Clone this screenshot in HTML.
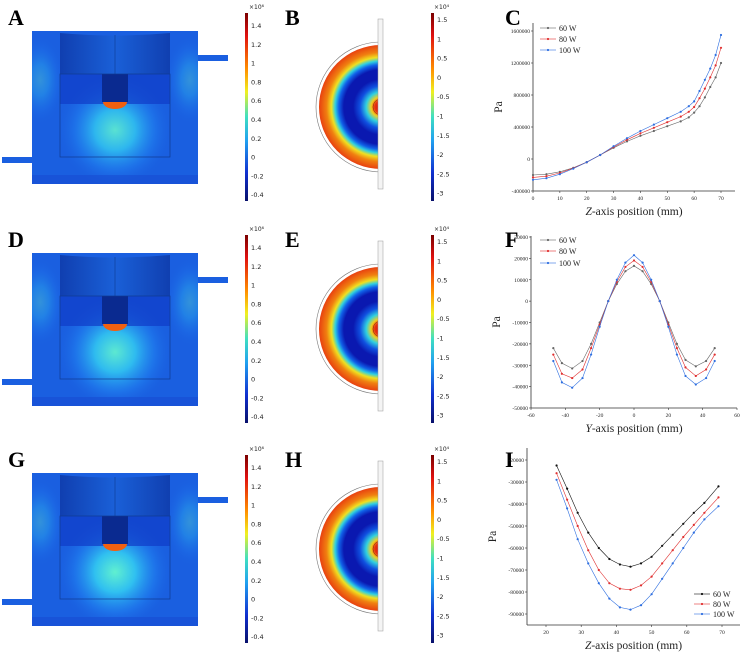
<!DOCTYPE html>
<html><head><meta charset="utf-8"><style>
body{margin:0;background:#fff;width:743px;height:660px;overflow:hidden}
svg{display:block;font-family:"Liberation Serif",serif}
</style></head><body>
<svg id="fig" width="743" height="660" viewBox="0 0 743 660" xmlns="http://www.w3.org/2000/svg">
<defs>
<linearGradient id="jet" x1="0" y1="0" x2="0" y2="1">
<stop offset="0" stop-color="#7a0000"/><stop offset="0.12" stop-color="#e01010"/><stop offset="0.3" stop-color="#ff9000"/><stop offset="0.42" stop-color="#f0f020"/><stop offset="0.55" stop-color="#40e0c0"/><stop offset="0.68" stop-color="#20a0f0"/><stop offset="0.85" stop-color="#1030d0"/><stop offset="1" stop-color="#08106a"/></linearGradient>
<radialGradient id="glow" cx="0.5" cy="0.5" r="0.5">
<stop offset="0" stop-color="#60f0d0"/><stop offset="0.35" stop-color="#30c0f0"/><stop offset="0.7" stop-color="#2080f0" stop-opacity="0.6"/><stop offset="1" stop-color="#1a5fe0" stop-opacity="0"/></radialGradient>
<radialGradient id="rings" gradientUnits="userSpaceOnUse" cx="381" cy="107" r="62">
<stop offset="0" stop-color="#d01010"/><stop offset="0.1" stop-color="#e83010"/><stop offset="0.16" stop-color="#f0d020"/><stop offset="0.24" stop-color="#30d0e0"/><stop offset="0.34" stop-color="#1050e0"/><stop offset="0.45" stop-color="#0a18b0"/><stop offset="0.6" stop-color="#0a18b0"/><stop offset="0.68" stop-color="#1060e8"/><stop offset="0.74" stop-color="#30d0e0"/><stop offset="0.8" stop-color="#f0e020"/><stop offset="0.88" stop-color="#f08010"/><stop offset="1" stop-color="#e84010"/></radialGradient>
<linearGradient id="topdark" x1="0" y1="0" x2="1" y2="0"><stop offset="0" stop-color="#103fb0"/><stop offset="0.5" stop-color="#1a60d8"/><stop offset="1" stop-color="#103fb0"/></linearGradient>
<clipPath id="tankclip"><rect x="32" y="31" width="166" height="153"/></clipPath>
</defs>
</svg>
<script>
const cX=[0,5,10,15,20,25,30,35,40,45,50,55,58,60,62,64,66,68,70];
const c60=[-200000,-190000,-160000,-110000,-40000,50000,140000,220000,290000,350000,410000,470000,520000,580000,660000,770000,900000,1020000,1200000];
const c80=[-230000,-215000,-175000,-115000,-40000,50000,150000,240000,320000,390000,460000,530000,590000,650000,760000,880000,1020000,1170000,1390000];
const c100=[-260000,-240000,-190000,-120000,-40000,50000,160000,260000,350000,430000,510000,590000,660000,720000,850000,990000,1130000,1300000,1550000];
const cXTicks=[0,10,20,30,40,50,60,70];
const cYTicks=[-400000,0,400000,800000,1200000,1600000];
const fX=[-47,-42,-36,-30,-25,-20,-15,-10,-5,0,5,10,15,20,25,30,36,42,47];
const f60=[-22000,-29000,-31500,-28000,-20000,-10000,0,8000,14000,16500,14000,8000,0,-10000,-20000,-27500,-30500,-28000,-22000];
const f80=[-25000,-34000,-36000,-32000,-22000,-11000,0,9000,16000,19000,16000,9000,0,-11000,-22000,-31000,-35000,-32000,-25000];
const f100=[-28000,-38000,-40500,-36000,-25000,-12000,0,10000,18000,21500,18000,10000,0,-12000,-25000,-35000,-39000,-36000,-28000];
const fXTicks=[-60,-40,-20,0,20,40,60];
const fYTicks=[-50000,-40000,-30000,-20000,-10000,0,10000,20000,30000];
const iX=[23,26,29,32,35,38,41,44,47,50,53,56,59,62,65,69];
const i60=[-22500,-33000,-44000,-53000,-60000,-65000,-67500,-68500,-67000,-64000,-59000,-54000,-49000,-44000,-39500,-32000];
const i80=[-26000,-38000,-50000,-61000,-70000,-76000,-78500,-79000,-77000,-73000,-67000,-61000,-55000,-49500,-44000,-37000];
const i100=[-29000,-42000,-56000,-67000,-76000,-83000,-87000,-88000,-86000,-81000,-74000,-67000,-60000,-53000,-47000,-41000];
const iXTicks=[20,30,40,50,60,70];
const iYTicks=[-90000,-80000,-70000,-60000,-50000,-40000,-30000,-20000];
const seriesNames=['60 W','80 W','100 W'];
const cbA=['1.4','1.2','1','0.8','0.6','0.4','0.2','0','-0.2','-0.4'];
const cbB=['1.5','1','0.5','0','-0.5','-1','-1.5','-2','-2.5','-3'];

const NS='http://www.w3.org/2000/svg';
const svg=document.getElementById('fig');
function el(t,a,p){const e=document.createElementNS(NS,t);for(const k in a)e.setAttribute(k,a[k]);(p||svg).appendChild(e);return e;}
function tx(s,x,y,size,a,p){const e=el('text',Object.assign({x:x,y:y,'font-size':size,fill:'#222'},a||{}),p);e.textContent=s;return e;}

const rowOff=[0,222,442];
const labels=[['A','B','C'],['D','E','F'],['G','H','I']];
rowOff.forEach((o,r)=>{
  const g=el('g',{transform:'translate(0,'+o+')'});
  
  
  labels[r].forEach((L,k)=>{const t=tx(L,[8,285,505][k],25,22,{'font-weight':'bold',fill:'#000'},g);
    
    });
  const tank=el('g',{},g);
  
  
  el('rect',{x:2,y:157,width:30,height:6,fill:'#1a5fe0'},tank);
  el('rect',{x:198,y:55,width:30,height:6,fill:'#1a5fe0'},tank);
  el('rect',{x:32,y:31,width:166,height:153,fill:'#1a5fe0'},tank);
  const inner=el('g',{'clip-path':'url(#tankclip)'},tank);
  el('ellipse',{cx:40,cy:80,rx:25,ry:45,fill:'url(#glow)',opacity:0.35},inner);
  el('ellipse',{cx:190,cy:80,rx:25,ry:45,fill:'url(#glow)',opacity:0.35},inner);
  el('ellipse',{cx:115,cy:130,rx:58,ry:58,fill:'url(#glow)',opacity:0.9+0.05*r},inner);
  el('rect',{x:32,y:175,width:166,height:10,fill:'#1648d0',opacity:0.5},inner);
  el('path',{d:'M60,33 Q115,38 170,33 L170,74 L60,74 Z',fill:'url(#topdark)'},tank);
  el('rect',{x:60,y:74,width:110,height:30,fill:'#0f3cc8',opacity:0.7},tank);
  el('rect',{x:102,y:74,width:26,height:28,fill:'#0a2a90'},tank);
  el('path',{d:'M103,102 A12,7 0 0 0 127,102 Z',fill:'#f06010'},tank);
  el('rect',{x:60,y:74,width:110,height:83,fill:'none',stroke:'#103a90','stroke-width':0.7},tank);
  el('line',{x1:115,y1:35,x2:115,y2:74,stroke:'#103a90','stroke-width':0.6},tank);
  const cb=el('g',{},g);
  
  
  el('rect',{x:245,y:13,width:3,height:188,fill:'url(#jet)'},cb);
  tx('×10⁶',249,9,6,{'font-family':'DejaVu Sans,sans-serif'},cb);
  cbA.forEach((s,i)=>tx(s,251,28+i*18.8,6.5,{'font-family':'DejaVu Sans,sans-serif'},cb));
  const sc=el('g',{},g);
  
  
  el('path',{d:'M381,45 A62,62 0 0 0 381,169 Z',fill:'url(#rings)'},sc);
  el('path',{d:'M381,42 A65,65 0 0 0 381,172',fill:'none',stroke:'#777','stroke-width':0.6},sc);
  el('path',{d:'M381,99 A8,8 0 0 0 381,115',fill:'none',stroke:'#600','stroke-width':0.4},sc);
  el('rect',{x:378,y:19,width:5,height:170,fill:'#f4f4f4',stroke:'#999','stroke-width':0.5},sc);
  const cb2=el('g',{},g);
  
  
  el('rect',{x:431,y:13,width:3,height:188,fill:'url(#jet)'},cb2);
  tx('×10⁴',434,9,6,{'font-family':'DejaVu Sans,sans-serif'},cb2);
  cbB.forEach((s,i)=>tx(s,437,22+i*19.3,6.5,{'font-family':'DejaVu Sans,sans-serif'},cb2));
});

const cols=['#666','#e03030','#2f6fe0'];
function chart(name,cfg){
  const g=el('g',{});
  
  
  const sx=v=>cfg.x0+(v-cfg.xmin)/(cfg.xmax-cfg.xmin)*(cfg.x1-cfg.x0);
  const sy=v=>cfg.y0+(v-cfg.ymin)/(cfg.ymax-cfg.ymin)*(cfg.y1-cfg.y0);
  el('line',{x1:cfg.ax,y1:cfg.y0,x2:cfg.ax,y2:cfg.top,stroke:'#333','stroke-width':0.8},g);
  el('line',{x1:cfg.ax,y1:cfg.y0,x2:cfg.right,y2:cfg.y0,stroke:'#333','stroke-width':0.8},g);
  cfg.xt.forEach(v=>{el('line',{x1:sx(v),y1:cfg.y0,x2:sx(v),y2:cfg.y0+2,stroke:'#333','stroke-width':0.6},g);
    tx(String(v),sx(v),cfg.y0+9,5.5,{'text-anchor':'middle'},g);});
  cfg.yt.forEach(v=>{el('line',{x1:cfg.ax-2,y1:sy(v),x2:cfg.ax,y2:sy(v),stroke:'#333','stroke-width':0.6},g);
    tx(String(v),cfg.ax-3,sy(v)+2,5.5,{'text-anchor':'end'},g);});
  const xt=tx('',(cfg.ax+cfg.right)/2,cfg.y0+24,11.5,{'text-anchor':'middle'},g);
  const it=el('tspan',{'font-style':'italic'},xt);it.textContent=cfg.var;
  const rest=el('tspan',{},xt);rest.textContent='-axis position (mm)';
  
  
  const yt=tx('Pa',0,0,11.5,{'text-anchor':'middle',transform:'translate('+(cfg.ax-31)+','+((cfg.top+cfg.y0)/2)+') rotate(-90)'},g);
  
  
  cfg.series.forEach((ys,k)=>{
    const c=cfg.cols[k];
    const pl=el('polyline',{points:cfg.xs.map((x,i)=>sx(x)+','+sy(ys[i])).join(' '),fill:'none',stroke:c,'stroke-width':0.6},g);
    
    
    cfg.xs.forEach((x,i)=>{const m=el('circle',{cx:sx(x),cy:sy(ys[i]),r:1.1,fill:c},g);
      
      });
    const ly=cfg.ly[k];
    const le=el('g',{},g);
    
    
    el('line',{x1:cfg.lx,y1:ly,x2:cfg.lx+16,y2:ly,stroke:c,'stroke-width':0.6},le);
    el('circle',{cx:cfg.lx+8,cy:ly,r:1.1,fill:c},le);
    tx(seriesNames[k],cfg.lx+19,ly+3,8,{},le);
  });
}
chart('chart-c',{x0:533,x1:721,xmin:0,xmax:70,y0:191,y1:31,ymin:-400000,ymax:1600000,ax:533,right:735,top:23,
  xt:cXTicks,yt:cYTicks,var:'Z',xs:cX,series:[c60,c80,c100],cols:cols,lx:540,ly:[28,39,50]});
chart('chart-f',{x0:531,x1:737,xmin:-60,xmax:60,y0:408,y1:237,ymin:-50000,ymax:30000,ax:531,right:737,top:236,
  xt:fXTicks,yt:fYTicks,var:'Y',xs:fX,series:[f60,f80,f100],cols:cols,lx:540,ly:[240,251,263]});
chart('chart-i',{x0:546,x1:722,xmin:20,xmax:70,y0:625,y1:460,ymin:-95000,ymax:-20000,ax:527,right:740,top:448,
  xt:iXTicks,yt:iYTicks,var:'Z',xs:iX,series:[i60,i80,i100],cols:['#111','#e03030','#2f6fe0'],lx:694,ly:[594,604,614]});
</script>
</body></html>
